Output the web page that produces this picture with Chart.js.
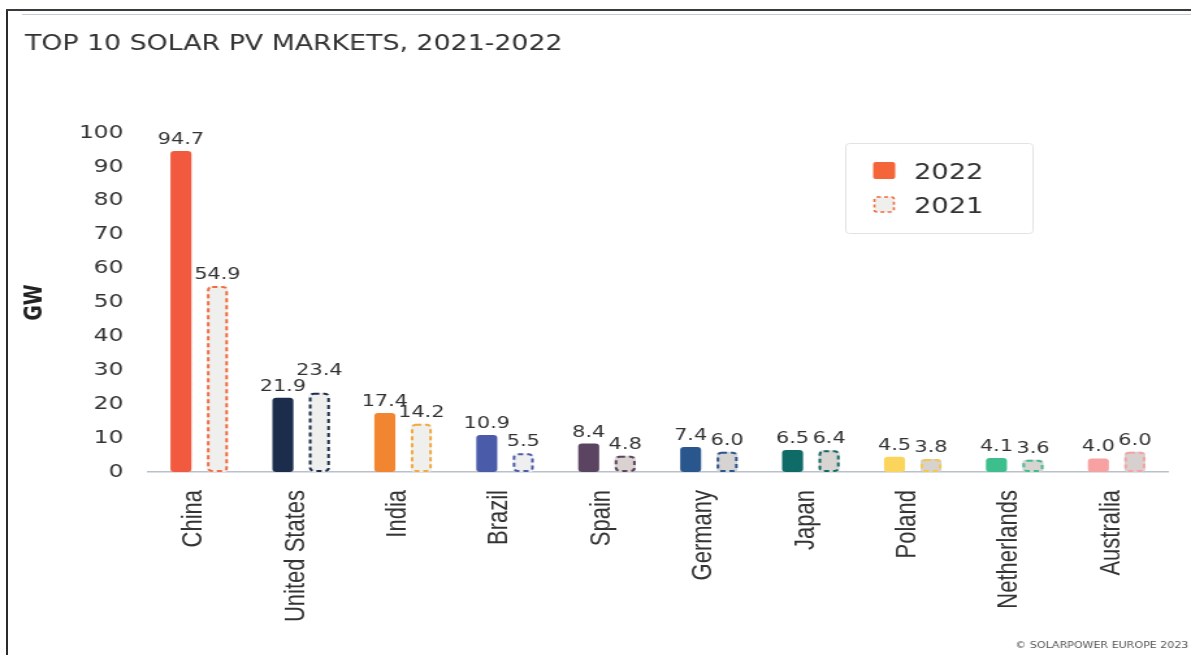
<!DOCTYPE html>
<html>
<head>
<meta charset="utf-8">
<script src="https://cdn.jsdelivr.net/npm/chart.js@4.4.1/dist/chart.umd.min.js"></script>
<style>
  html, body { margin: 0; padding: 0; background: #fff; }
  body { width: 1191px; height: 655px; overflow: hidden; position: relative; }
  /* the source picture is stretched sideways, so the whole chart is too */
  #stage { position: absolute; left: 0; top: 0; width: 916px; height: 655px; transform: scaleX(1.30022); transform-origin: 0 0; }
  .frame-left { position: absolute; left: 6px; top: 9px; width: 2px; height: 646px; background: #2b2b2b; }
  .frame-top { position: absolute; left: 6px; top: 9px; right: 0; height: 2px; background: #3a3a3a; }
  .rule-top { position: absolute; left: 22px; top: 13.5px; right: 0; height: 1.5px; background: #c6ccd6; }
</style>
</head>
<body>
<div id="stage"><canvas id="solarChart" width="916" height="655"></canvas></div>
<div class="frame-left"></div>
<div class="frame-top"></div>
<div class="rule-top"></div>
<script>
const countries = ['China', 'United States', 'India', 'Brazil', 'Spain', 'Germany', 'Japan', 'Poland', 'Netherlands', 'Australia'];
const values2022 = [94.7, 21.9, 17.4, 10.9, 8.4, 7.4, 6.5, 4.5, 4.1, 4.0];
const values2021 = [54.9, 23.4, 14.2, 5.5, 4.8, 6.0, 6.4, 3.8, 3.6, 6.0];
const yTickValues = [0, 10, 20, 30, 40, 50, 60, 70, 80, 90, 100];
const seriesNames = ['2022', '2021'];

// colours per country
const fill2022 = ['#f15a3f', '#1b2d4b', '#f28530', '#4a5baa', '#5b4461', '#2a568e', '#0e6b68', '#fbd55b', '#3dbf8d', '#f7a1a2'];
const fill2021 = ['#efefed', '#efefed', '#efefed', '#efefef', '#d9d2d0', '#d6d3d3', '#d8d4d2', '#d8d2ce', '#d7d3d1', '#d8d0ce'];
const outline2021 = ['#f26a3e', '#1b2d4b', '#f4a83a', '#4a5baa', '#5b4461', '#2a568e', '#0e6b68', '#f5c84a', '#3dbf8d', '#f7a1a2'];

const textColor = '#333';
const wideFont = '"DejaVu Sans", sans-serif';

// dashed outline for the 2021 bars
const dashedOutline = {
    id: 'dashedOutline',
    afterDatasetsDraw(chart) {
        const ctx = chart.ctx;
        const meta = chart.getDatasetMeta(1);
        ctx.save();
        ctx.lineWidth = 2;
        ctx.setLineDash([4, 3]);
        meta.data.forEach((bar, i) => {
            const { x, y, base, width } = bar.getProps(['x', 'y', 'base', 'width'], true);
            ctx.strokeStyle = outline2021[i];
            ctx.beginPath();
            ctx.roundRect(x - width / 2 + 1, y + 1, width - 2, base - y - 2, 3);
            ctx.stroke();
        });
        ctx.restore();
    }
};

// numbers above the bars, 2021 label pushed up if it hits the 2022 one
const valueLabels = {
    id: 'valueLabels',
    afterDatasetsDraw(chart) {
        const ctx = chart.ctx;
        const m0 = chart.getDatasetMeta(0);
        const m1 = chart.getDatasetMeta(1);
        const capH = 11.7;
        ctx.save();
        ctx.font = '16px ' + wideFont;
        ctx.fillStyle = textColor;
        ctx.textAlign = 'center';
        ctx.textBaseline = 'alphabetic';
        countries.forEach((c, i) => {
            const a = m0.data[i], b = m1.data[i];
            const t0 = values2022[i].toFixed(1);
            const t1 = values2021[i].toFixed(1);
            const w0 = ctx.measureText(t0).width;
            const w1 = ctx.measureText(t1).width;
            const y0 = a.y - 7;
            let y1 = b.y - 7;
            const hOverlap = (a.x + w0 / 2) - (b.x - w1 / 2);
            const vOverlap = Math.min(y0, y1) - Math.max(y0 - capH, y1 - capH);
            if (hOverlap > 0 && vOverlap > 3) y1 = y0 - capH - 4;
            ctx.fillText(t0, a.x, y0);
            ctx.fillText(t1, b.x, y1);
        });
        ctx.restore();
    }
};

// title, legend box and credit line
const chrome = {
    id: 'chrome',
    afterDraw(chart) {
        const ctx = chart.ctx;
        ctx.save();
        ctx.fillStyle = textColor;
        ctx.textAlign = 'left';
        ctx.textBaseline = 'alphabetic';
        ctx.font = '20.6px ' + wideFont;
        ctx.fillText('TOP 10 SOLAR PV MARKETS, 2021-2022', 19.2, 50);

        // legend
        ctx.strokeStyle = '#e2e2e2';
        ctx.lineWidth = 1;
        ctx.beginPath();
        ctx.roundRect(650.5, 143.5, 144, 90, 3);
        ctx.stroke();

        ctx.fillStyle = '#f4663a';
        ctx.beginPath();
        ctx.roundRect(671.5, 162, 17, 17, 2);
        ctx.fill();

        ctx.fillStyle = '#efefed';
        ctx.beginPath();
        ctx.roundRect(672.5, 197, 15, 15, 2);
        ctx.fill();
        ctx.strokeStyle = '#f26a3e';
        ctx.lineWidth = 1.6;
        ctx.setLineDash([3, 2.5]);
        ctx.stroke();
        ctx.setLineDash([]);

        ctx.fillStyle = textColor;
        ctx.font = '21px ' + wideFont;
        ctx.fillText(seriesNames[0], 703, 179);
        ctx.fillText(seriesNames[1], 703, 213);

        ctx.fillStyle = '#555';
        ctx.font = '8.5px ' + wideFont;
        ctx.textAlign = 'right';
        ctx.fillText('\u00a9 SOLARPOWER EUROPE 2023', 914, 648);
        ctx.restore();
    }
};

const ctx = document.getElementById('solarChart').getContext('2d');
new Chart(ctx, {
    type: 'bar',
    data: {
        labels: countries,
        datasets: [
            {
                label: seriesNames[0],
                data: values2022,
                backgroundColor: fill2022,
                borderWidth: 0,
                borderRadius: 3,
                borderSkipped: false
            },
            {
                label: seriesNames[1],
                data: values2021,
                backgroundColor: fill2021,
                borderWidth: 0,
                borderRadius: 3,
                borderSkipped: false
            }
        ]
    },
    options: {
        responsive: false,
        animation: false,
        events: [],
        categoryPercentage: 0.716,
        barPercentage: 0.575,
        layout: { padding: { top: 133, right: 18, left: 0, bottom: 0 } },
        plugins: {
            legend: { display: false },
            tooltip: { enabled: false }
        },
        scales: {
            x: {
                grid: { display: false, drawTicks: false },
                border: { display: true, color: '#b9c0cc', width: 1.5 },
                ticks: {
                    autoSkip: false,
                    minRotation: 90,
                    maxRotation: 90,
                    padding: 18,
                    labelOffset: -4,
                    color: textColor,
                    font: { family: '"Liberation Sans", Arial, sans-serif', size: 22 }
                },
                afterFit(scale) { scale.height = 183; }
            },
            y: {
                min: 0,
                max: 100,
                grid: { display: false, drawTicks: false },
                border: { display: false },
                afterBuildTicks(scale) { scale.ticks = yTickValues.map(v => ({ value: v })); },
                ticks: {
                    padding: 19,
                    color: textColor,
                    font: { family: wideFont, size: 18 }
                },
                title: {
                    display: true,
                    text: 'GW',
                    color: '#222',
                    padding: { top: 16, bottom: 0 },
                    font: { family: wideFont, size: 19, weight: 'bold', lineHeight: 1.2 }
                },
                afterFit(scale) { scale.width = 114; }
            }
        }
    },
    plugins: [dashedOutline, valueLabels, chrome]
});
</script>
</body>
</html>
